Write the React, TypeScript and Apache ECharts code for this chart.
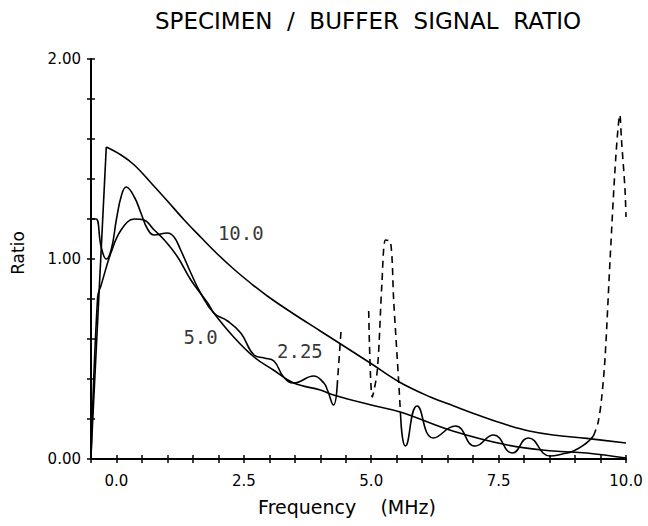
import React, { useEffect, useRef } from 'react';
import * as echarts from 'echarts';

// ---- tick labels ----
const xTickValues = [0, 2.5, 5, 7.5, 10];
const xTickLabels = ['0.0', '2.5', '5.0', '7.5', '10.0'];
const yTickValues = [0, 1, 2];
const yTickLabels = ['0.00', '1.00', '2.00'];

// ---- curve "10.0" ----
const c10RiseX = [-0.5, -0.2];
const c10RiseY = [0.02, 1.56];
const c10X = [-0.2, 0.09, 0.35, 0.68, 1.0, 1.33, 1.65, 1.98, 2.3, 2.63, 2.96, 3.42, 4.0, 4.4, 4.98, 5.55, 6.16, 6.62, 7.2, 7.67, 8.1, 8.57, 9.23, 10.0];
const c10Y = [1.56, 1.52, 1.47, 1.38, 1.29, 1.195, 1.11, 1.025, 0.95, 0.88, 0.815, 0.735, 0.64, 0.575, 0.48, 0.385, 0.31, 0.265, 0.21, 0.17, 0.14, 0.12, 0.103, 0.08];

// ---- curve "5.0" ----
const c5X = [-0.5, -0.37, -0.3, -0.11, 0.09, 0.35, 0.54, 0.74, 0.94, 1.2, 1.46, 1.79, 1.91, 2.3, 2.7, 3.08, 3.48, 4.0, 4.26, 5.0, 5.57, 6.6, 7.67, 8.57, 9.23, 10.0];
const c5Y = [0.0, 0.81, 0.87, 1.03, 1.145, 1.2, 1.195, 1.145, 1.095, 1.01, 0.895, 0.78, 0.73, 0.61, 0.51, 0.445, 0.38, 0.345, 0.32, 0.27, 0.235, 0.14, 0.07, 0.04, 0.03, 0.005];

// ---- curve "2.25" : solid parts ----
const c225aX = [-0.5, -0.48, -0.4, -0.3, -0.2, -0.1, 0.0, 0.1, 0.19, 0.35, 0.48, 0.61, 0.74, 1.0, 1.13, 1.26, 1.46, 1.65, 1.91, 2.18, 2.44, 2.7, 2.9, 3.09, 3.28, 3.48, 3.87, 4.07, 4.14, 4.26, 4.33];
const c225aY = [0.3, 1.2, 1.2, 1.06, 1.0, 1.05, 1.2, 1.32, 1.36, 1.31, 1.23, 1.15, 1.12, 1.13, 1.11, 1.045, 0.93, 0.83, 0.73, 0.69, 0.63, 0.52, 0.505, 0.49, 0.41, 0.38, 0.415, 0.38, 0.345, 0.27, 0.36];
const c225bX = [5.58, 5.67, 5.9, 6.22, 6.65, 7.04, 7.4, 7.77, 8.08, 8.51, 8.75, 8.97, 9.2, 9.36];
const c225bY = [0.2, 0.065, 0.265, 0.105, 0.165, 0.065, 0.12, 0.03, 0.105, 0.015, 0.025, 0.04, 0.075, 0.115];

// ---- curve "2.25" : dashed parts (null = gap) ----
const dashAX = [4.33, 4.41, 4.68, 4.95, 5.02, 5.12, 5.21, 5.28, 5.38, 5.44, 5.54, 5.58];
const dashAY = [0.36, 0.65, null, 0.74, 0.31, 0.445, 0.88, 1.095, 1.085, 0.795, 0.38, 0.2];
const dashBX = [9.36, 9.45, 9.52, 9.59, 9.69, 9.8, 9.88, 9.91, 9.98, 10.0];
const dashBY = [0.115, 0.18, 0.3, 0.51, 1.01, 1.51, 1.72, 1.6, 1.35, 1.21];

// ---- curve labels ----
const labelText = ['10.0', '5.0', '2.25'];
const labelX = [2.44, 1.65, 3.6];
const labelY = [1.13, 0.61, 0.54];

const pairs = (xs: number[], ys: (number | null)[]) =>
  xs.map((x, i) => (ys[i] === null ? [x, '-'] : [x, ys[i]]));

const LINE_W = 1.6;

export default function App() {
  const ref = useRef<HTMLDivElement>(null);
  useEffect(() => {
    if (!ref.current) return;
    const chart = echarts.init(ref.current, null, { renderer: 'svg' });
    const solid = (name: string, xs: number[], ys: number[], smooth: number | boolean) => ({
      name,
      type: 'line',
      data: pairs(xs, ys),
      smooth,
      symbol: 'none',
      lineStyle: { color: '#000', width: LINE_W },
      silent: true,
    });
    const dashed = (name: string, xs: number[], ys: (number | null)[]) => ({
      name,
      type: 'line',
      data: pairs(xs, ys),
      smooth: 0.3,
      connectNulls: false,
      symbol: 'none',
      lineStyle: { color: '#000', width: LINE_W, type: [7, 5] },
      silent: true,
    });
    const axisCommon = {
      type: 'value',
      splitLine: { show: false },
    };
    chart.setOption({
      animation: false,
      backgroundColor: '#fff',
      grid: { left: 91, right: 22, top: 59, bottom: 67, containLabel: false },
      xAxis: [
        {
          ...axisCommon,
          min: -0.5,
          max: 10,
          interval: 0.5,
          position: 'bottom',
          axisLine: { show: true, onZero: false, lineStyle: { color: '#000', width: 2 } },
          axisTick: { show: true, inside: false, length: 4, lineStyle: { color: '#000', width: 1.5 } },
          axisLabel: {
            margin: 14,
            color: '#000',
            fontFamily: 'DejaVu Sans',
            fontSize: 15,
            formatter: (v: number) => {
              const i = xTickValues.findIndex((t) => Math.abs(t - v) < 1e-6);
              return i >= 0 ? xTickLabels[i] : '';
            },
          },
        },
        {
          ...axisCommon,
          min: -0.5,
          max: 10,
          interval: 0.5,
          position: 'bottom',
          axisLine: { show: false, onZero: false },
          axisTick: { show: true, inside: true, length: 4, lineStyle: { color: '#000', width: 1.5 } },
          axisLabel: { show: false },
        },
      ],
      yAxis: [
        {
          ...axisCommon,
          min: 0,
          max: 2,
          interval: 0.2,
          position: 'left',
          axisLine: { show: true, onZero: false, lineStyle: { color: '#000', width: 2 } },
          axisTick: { show: true, inside: false, length: 4, lineStyle: { color: '#000', width: 1.5 } },
          axisLabel: {
            margin: 10,
            color: '#000',
            fontFamily: 'DejaVu Sans',
            fontSize: 15,
            formatter: (v: number) => {
              const i = yTickValues.findIndex((t) => Math.abs(t - v) < 1e-6);
              return i >= 0 ? yTickLabels[i] : '';
            },
          },
        },
        {
          ...axisCommon,
          min: 0,
          max: 2,
          interval: 0.2,
          position: 'left',
          axisLine: { show: false, onZero: false },
          axisTick: { show: true, inside: true, length: 4, lineStyle: { color: '#000', width: 1.5 } },
          axisLabel: { show: false },
        },
      ],
      series: [
        solid('10.0 rise', c10RiseX, c10RiseY, false),
        solid('10.0', c10X, c10Y, 0.4),
        solid('5.0', c5X, c5Y, 0.4),
        solid('2.25 a', c225aX, c225aY, 0.45),
        solid('2.25 b', c225bX, c225bY, 0.5),
        dashed('2.25 dash a', dashAX, dashAY),
        dashed('2.25 dash b', dashBX, dashBY),
        {
          name: 'labels',
          type: 'scatter',
          symbolSize: 0,
          silent: true,
          data: labelText.map((t, i) => ({ name: t, value: [labelX[i], labelY[i]] })),
          label: {
            show: true,
            position: 'inside',
            formatter: '{b}',
            color: '#000',
            fontFamily: 'DejaVu Sans Mono',
            fontSize: 19,
          },
        },
      ],
      graphic: [
        {
          type: 'text',
          x: 368,
          y: 21,
          style: {
            text: 'SPECIMEN  /  BUFFER  SIGNAL  RATIO',
            fill: '#000',
            font: '23px "DejaVu Sans"',
            textAlign: 'center',
            textVerticalAlign: 'middle',
          },
        },
        {
          type: 'text',
          x: 18,
          y: 253,
          rotation: Math.PI / 2,
          style: {
            text: 'Ratio',
            fill: '#000',
            font: '17px "DejaVu Sans"',
            textAlign: 'center',
            textVerticalAlign: 'middle',
          },
        },
        {
          type: 'text',
          x: 347,
          y: 507,
          style: {
            text: 'Frequency    (MHz)',
            fill: '#000',
            font: '19px "DejaVu Sans"',
            textAlign: 'center',
            textVerticalAlign: 'middle',
          },
        },
      ],
    });
    return () => chart.dispose();
  }, []);
  return (
    <div
      ref={ref}
      style={{ position: 'fixed', left: 0, top: 0, width: 648, height: 526, background: '#fff' }}
    />
  );
}
